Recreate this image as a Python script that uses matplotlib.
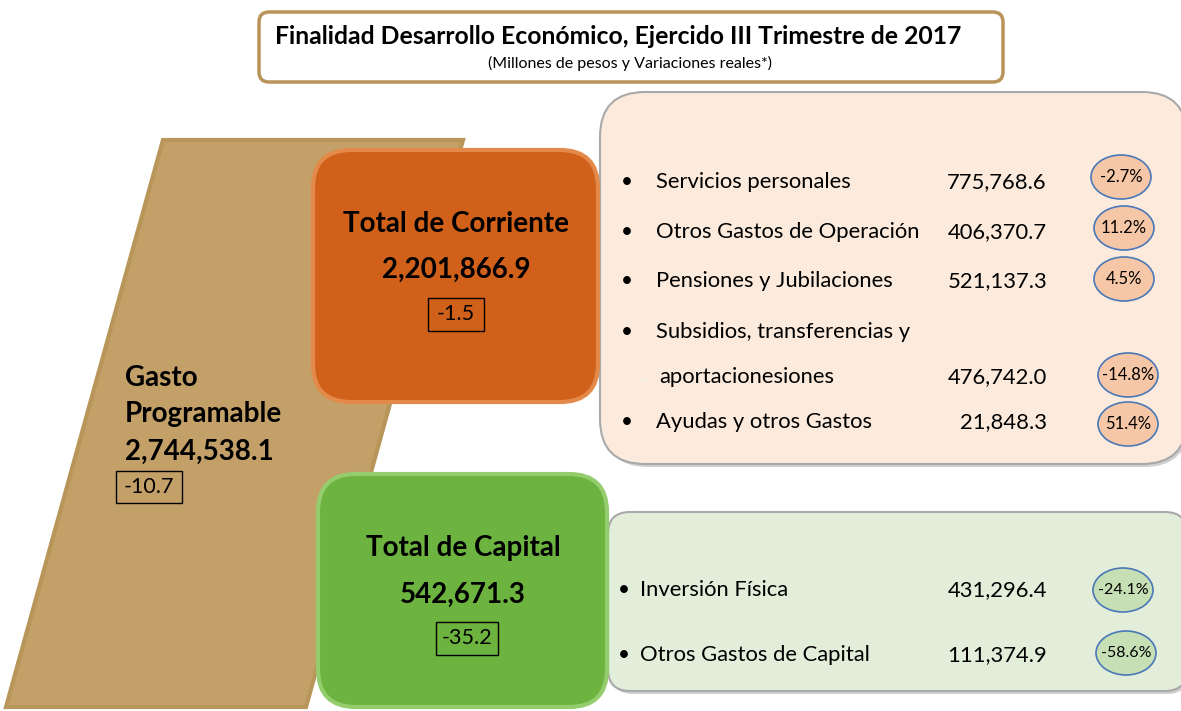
import matplotlib
matplotlib.use("Agg")
import matplotlib.pyplot as plt
from matplotlib.patches import FancyBboxPatch, Polygon, Ellipse, Rectangle

plt.rcParams['font.family'] = ['Lato', 'DejaVu Sans']

title = "Finalidad Desarrollo Económico, Ejercido III Trimestre de 2017"
subtitle = "(Millones de pesos y Variaciones reales*)"

total_label = ["Gasto", "Programable"]
total_value = "2,744,538.1"
total_var = "-10.7"

corriente_label = "Total de Corriente"
corriente_value = "2,201,866.9"
corriente_var = "-1.5"

capital_label = "Total de Capital"
capital_value = "542,671.3"
capital_var = "-35.2"

corriente_items = ["Servicios personales", "Otros Gastos de Operación",
                   "Pensiones y Jubilaciones", "Subsidios, transferencias y",
                   "aportacionesiones", "Ayudas y otros Gastos"]
corriente_values = ["775,768.6", "406,370.7", "521,137.3", "", "476,742.0", "21,848.3"]
corriente_vars = ["-2.7%", "11.2%", "4.5%", "", "-14.8%", "51.4%"]

capital_items = ["Inversión Física", "Otros Gastos de Capital"]
capital_values = ["431,296.4", "111,374.9"]
capital_vars = ["-24.1%", "-58.6%"]

W, H = 1181, 711
fig = plt.figure(figsize=(W / 100, H / 100), dpi=100)
ax = fig.add_axes([0, 0, 1, 1])
ax.set_xlim(0, W)
ax.set_ylim(H, 0)
ax.axis("off")

BIG = 20
BODY = 15.8

def rbox(x0, y0, x1, y1, r, fc, ec, lw, z=1):
    p = FancyBboxPatch((x0, y0), x1 - x0, y1 - y0,
                       boxstyle="round,pad=0,rounding_size=%d" % r,
                       fc=fc, ec=ec, lw=lw, zorder=z)
    ax.add_patch(p)
    return p

def vbox(x, y, txt, w, h, fs):
    ax.add_patch(Rectangle((x - w / 2, y - h / 2), w, h, fc="none", ec="black", lw=1, zorder=6))
    ax.text(x, y, txt, ha="center", va="center", fontsize=fs, zorder=7)

# title box
rbox(259, 12, 1003, 82, 10, "white", "#B8935A", 2.5)
ax.text(618, 37, title, ha="center", va="center", fontsize=17.8, fontweight="bold")
ax.text(630, 63, subtitle, ha="center", va="center", fontsize=11.5)

# parallelogram
ax.add_patch(Polygon([(163, 140), (463, 140), (306, 707), (6, 707)], closed=True,
                     fc="#C4A069", ec="#B89559", lw=3, zorder=1))
ax.text(125, 378, total_label[0], ha="left", va="center", fontsize=BIG, fontweight="bold", zorder=5)
ax.text(125, 414, total_label[1], ha="left", va="center", fontsize=BIG, fontweight="bold", zorder=5)
ax.text(125, 452, total_value, ha="left", va="center", fontsize=BIG, fontweight="bold", zorder=5)
vbox(149, 487, total_var, 66, 32, 15.5)

# orange box
rbox(313, 150, 598, 402, 38, "#D0601A", "#E38A4A", 3, z=3)
ax.text(456, 224, corriente_label, ha="center", va="center", fontsize=BIG, fontweight="bold", zorder=5)
ax.text(456, 270, corriente_value, ha="center", va="center", fontsize=BIG, fontweight="bold", zorder=5)
vbox(456, 314, corriente_var, 56, 33, 15.5)

# green box
rbox(318, 474, 607, 707, 38, "#6CB33F", "#94CC6E", 3, z=3)
ax.text(463, 548, capital_label, ha="center", va="center", fontsize=BIG, fontweight="bold", zorder=5)
ax.text(463, 595, capital_value, ha="center", va="center", fontsize=BIG, fontweight="bold", zorder=5)
vbox(467, 638, capital_var, 62, 33, 15.5)

# corriente panel
rbox(603, 95, 1189, 467, 45, "#CFCFCF", "none", 0, z=1)
rbox(600, 92, 1187, 464, 45, "#FCEBDD", "#A9A9A9", 1.5, z=2)
row_y = [182, 232, 281, 332, 377, 422]
oval_x = [1121, 1124, 1124, 0, 1128, 1128]
oval_y = [177, 228, 279, 0, 375, 424]
for i, item in enumerate(corriente_items):
    y = row_y[i]
    if i == 4:
        ax.text(640, y, "...", ha="left", va="center", fontsize=9, color="#F2F2F2", zorder=5)
        ax.text(659, y, item, ha="left", va="center", fontsize=BODY, zorder=5)
    else:
        ax.text(627, y, "•", ha="center", va="center", fontsize=15, zorder=5)
        ax.text(656, y, item, ha="left", va="center", fontsize=BODY, zorder=5)
    if corriente_values[i]:
        ax.text(1047, y, corriente_values[i], ha="right", va="center", fontsize=BODY, zorder=5)
        ax.add_patch(Ellipse((oval_x[i], oval_y[i]), 60, 44, fc="#F6C7A6", ec="#4A78B8", lw=1.2, zorder=5))
        ax.text(oval_x[i], oval_y[i], corriente_vars[i], ha="center", va="center", fontsize=12, zorder=6)

# capital panel
rbox(611, 515, 1189, 694, 22, "#CFCFCF", "none", 0, z=1)
rbox(608, 512, 1187, 691, 22, "#E2EEDA", "#A9A9A9", 1.5, z=2)
cap_y = [590, 655]
cap_oval_x = [1123, 1126]
cap_oval_y = [590, 653]
for i, item in enumerate(capital_items):
    y = cap_y[i]
    ax.text(624, y, "•", ha="center", va="center", fontsize=15, zorder=5)
    ax.text(640, y, item, ha="left", va="center", fontsize=BODY, zorder=5)
    ax.text(1047, y, capital_values[i], ha="right", va="center", fontsize=BODY, zorder=5)
    ax.add_patch(Ellipse((cap_oval_x[i], cap_oval_y[i]), 60, 44, fc="#C6DFB4", ec="#4A78B8", lw=1.2, zorder=5))
    ax.text(cap_oval_x[i], cap_oval_y[i], capital_vars[i], ha="center", va="center", fontsize=11.5, zorder=6)

fig.savefig("out.png", dpi=100)
